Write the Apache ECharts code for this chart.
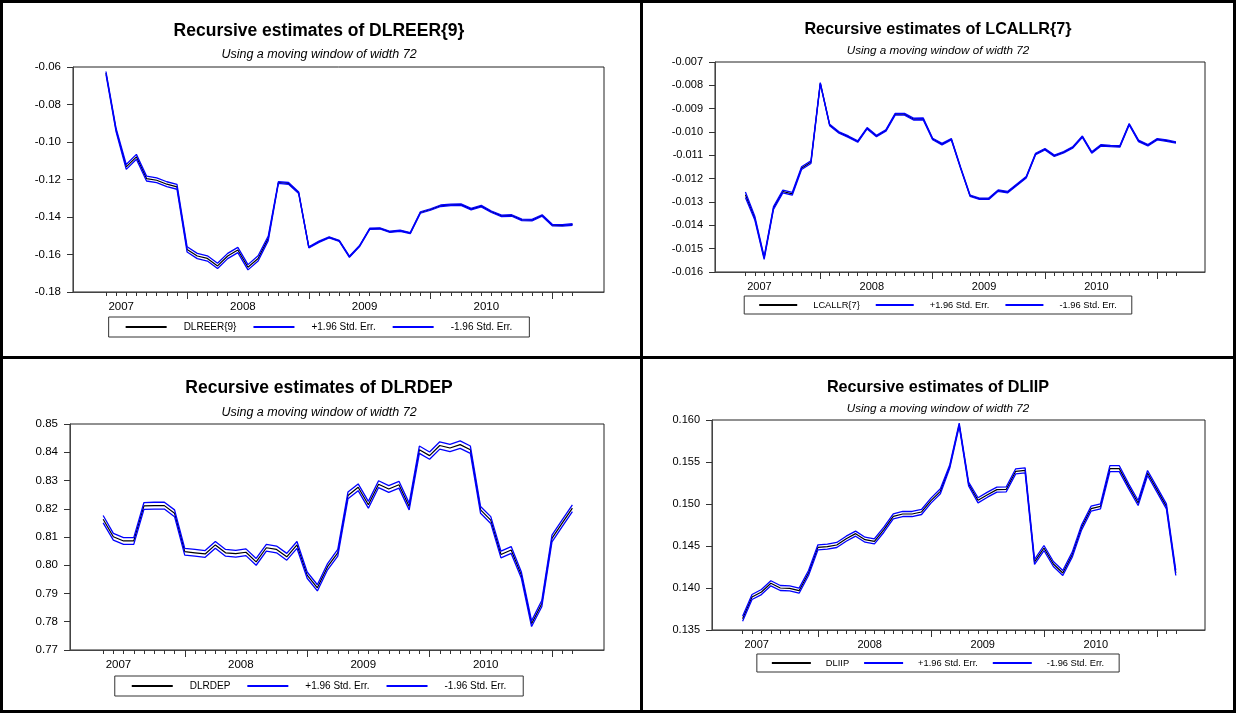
<!DOCTYPE html>
<html>
<head>
<meta charset="utf-8">
<title>Recursive estimates</title>
<script src="https://cdn.jsdelivr.net/npm/echarts@6/dist/echarts.min.js"></script>
<style>
  html, body { margin: 0; padding: 0; background: #fff; }
  #page { position: relative; width: 1236px; height: 713px; overflow: hidden; background: #fff; }
  .panel { position: absolute; }
  .rule { position: absolute; background: #000; z-index: 5; }
</style>
</head>
<body>
<div id="page">
  <div class="panel" id="p1" style="left:0;top:0;width:638px;height:356px"></div>
  <div class="panel" id="p2" style="left:640px;top:0;width:596px;height:356px"></div>
  <div class="panel" id="p3" style="left:0;top:357px;width:638px;height:356px"></div>
  <div class="panel" id="p4" style="left:640px;top:357px;width:596px;height:356px"></div>
  <div class="rule" style="left:0;top:0;width:1236px;height:3px"></div>
  <div class="rule" style="left:0;top:710px;width:1236px;height:3px"></div>
  <div class="rule" style="left:0;top:0;width:3px;height:713px"></div>
  <div class="rule" style="left:1233px;top:0;width:3px;height:713px"></div>
  <div class="rule" style="left:640px;top:0;width:3px;height:713px"></div>
  <div class="rule" style="left:0;top:356px;width:1236px;height:3px"></div>
</div>
<script>
// Monthly observations of the 72-month moving window (end month of each window)
const months = [
  '2007-05','2007-06','2007-07','2007-08','2007-09','2007-10','2007-11','2007-12',
  '2008-01','2008-02','2008-03','2008-04','2008-05','2008-06','2008-07','2008-08','2008-09','2008-10','2008-11','2008-12',
  '2009-01','2009-02','2009-03','2009-04','2009-05','2009-06','2009-07','2009-08','2009-09','2009-10','2009-11','2009-12',
  '2010-01','2010-02','2010-03','2010-04','2010-05','2010-06','2010-07','2010-08','2010-09','2010-10','2010-11','2010-12',
  '2011-01','2011-02','2011-03'
];
const yearLabels = ['2007', '2008', '2009', '2010'];

// DLREER{9}
const dlreerEst = [-0.0632,-0.0937,-0.1133,-0.1079,-0.1195,-0.1204,-0.1225,-0.1239,
  -0.1573,-0.1608,-0.1621,-0.1661,-0.1608,-0.1576,-0.1668,-0.1621,-0.1514,-0.1216,-0.1221,-0.1271,
  -0.1562,-0.1532,-0.1509,-0.1527,-0.1612,-0.1555,-0.1463,-0.1461,-0.1479,-0.1473,-0.1486,-0.1376,
  -0.1360,-0.1340,-0.1335,-0.1334,-0.1358,-0.1342,-0.1372,-0.1394,-0.1392,-0.1415,-0.1417,-0.1392,
  -0.1443,-0.1445,-0.1440];
const dlreerUp = [-0.0624,-0.0928,-0.1120,-0.1066,-0.1182,-0.1191,-0.1212,-0.1226,
  -0.1559,-0.1594,-0.1607,-0.1647,-0.1594,-0.1562,-0.1654,-0.1607,-0.1502,-0.1211,-0.1216,-0.1267,
  -0.1559,-0.1529,-0.1506,-0.1524,-0.1609,-0.1552,-0.1460,-0.1458,-0.1476,-0.1470,-0.1483,-0.1372,
  -0.1356,-0.1336,-0.1331,-0.1330,-0.1354,-0.1338,-0.1368,-0.1390,-0.1388,-0.1411,-0.1413,-0.1388,
  -0.1439,-0.1441,-0.1436];
const dlreerLo = [-0.0640,-0.0946,-0.1146,-0.1092,-0.1208,-0.1217,-0.1238,-0.1252,
  -0.1587,-0.1622,-0.1635,-0.1675,-0.1622,-0.1590,-0.1682,-0.1635,-0.1526,-0.1221,-0.1226,-0.1275,
  -0.1565,-0.1535,-0.1512,-0.1530,-0.1615,-0.1558,-0.1466,-0.1464,-0.1482,-0.1476,-0.1489,-0.1380,
  -0.1364,-0.1344,-0.1339,-0.1338,-0.1362,-0.1346,-0.1376,-0.1398,-0.1396,-0.1419,-0.1421,-0.1396,
  -0.1447,-0.1449,-0.1444];

// LCALLR{7}
const lcallrEst = [-0.01269,-0.01369,-0.01540,-0.01326,-0.01255,-0.01265,-0.01155,-0.01129,
  -0.00791,-0.00970,-0.01002,-0.01020,-0.01041,-0.00984,-0.01017,-0.00994,-0.00924,-0.00924,-0.00945,-0.00944,
  -0.01030,-0.01052,-0.01031,-0.01155,-0.01273,-0.01286,-0.01286,-0.01251,-0.01258,-0.01226,-0.01194,-0.01094,
  -0.01074,-0.01102,-0.01087,-0.01065,-0.01020,-0.01088,-0.01057,-0.01060,-0.01062,-0.00967,-0.01038,-0.01057,
  -0.01031,-0.01037,-0.01045];
const lcallrUp = [-0.01257,-0.01361,-0.01534,-0.01320,-0.01249,-0.01259,-0.01149,-0.01123,
  -0.00788,-0.00967,-0.00999,-0.01017,-0.01038,-0.00981,-0.01014,-0.00991,-0.00920,-0.00920,-0.00941,-0.00940,
  -0.01027,-0.01049,-0.01028,-0.01152,-0.01270,-0.01283,-0.01283,-0.01248,-0.01255,-0.01223,-0.01191,-0.01091,
  -0.01071,-0.01099,-0.01084,-0.01062,-0.01017,-0.01085,-0.01054,-0.01057,-0.01059,-0.00964,-0.01035,-0.01054,
  -0.01028,-0.01034,-0.01042];
const lcallrLo = [-0.01281,-0.01377,-0.01546,-0.01332,-0.01261,-0.01271,-0.01161,-0.01135,
  -0.00794,-0.00973,-0.01005,-0.01023,-0.01044,-0.00987,-0.01020,-0.00997,-0.00928,-0.00928,-0.00949,-0.00948,
  -0.01033,-0.01055,-0.01034,-0.01158,-0.01276,-0.01289,-0.01289,-0.01254,-0.01261,-0.01229,-0.01197,-0.01097,
  -0.01077,-0.01105,-0.01090,-0.01068,-0.01023,-0.01091,-0.01060,-0.01063,-0.01065,-0.00970,-0.01041,-0.01060,
  -0.01034,-0.01040,-0.01048];

// DLRDEP
const dlrdepEst = [0.8163,0.8101,0.8086,0.8086,0.8210,0.8211,0.8211,0.8184,
  0.8048,0.8044,0.8040,0.8072,0.8044,0.8041,0.8046,0.8012,0.8062,0.8056,0.8030,0.8072,
  0.7965,0.7920,0.7995,0.8044,0.8247,0.8276,0.8214,0.8287,0.8270,0.8285,0.8208,0.8409,
  0.8388,0.8424,0.8415,0.8427,0.8409,0.8196,0.8160,0.8038,0.8054,0.7965,0.7793,0.7864,
  0.8095,0.8149,0.8202];
const dlrdepUp = [0.8176,0.8113,0.8098,0.8098,0.8222,0.8223,0.8223,0.8196,
  0.8060,0.8056,0.8052,0.8084,0.8056,0.8053,0.8058,0.8024,0.8074,0.8068,0.8042,0.8084,
  0.7976,0.7931,0.8006,0.8056,0.8259,0.8288,0.8226,0.8299,0.8282,0.8297,0.8220,0.8422,
  0.8401,0.8437,0.8428,0.8440,0.8422,0.8208,0.8172,0.8050,0.8066,0.7976,0.7803,0.7875,
  0.8107,0.8161,0.8214];
const dlrdepLo = [0.8150,0.8089,0.8074,0.8074,0.8198,0.8199,0.8199,0.8172,
  0.8036,0.8032,0.8028,0.8060,0.8032,0.8029,0.8034,0.8000,0.8050,0.8044,0.8018,0.8060,
  0.7954,0.7909,0.7984,0.8032,0.8235,0.8264,0.8202,0.8275,0.8258,0.8273,0.8196,0.8396,
  0.8375,0.8411,0.8402,0.8414,0.8396,0.8184,0.8148,0.8026,0.8042,0.7954,0.7783,0.7853,
  0.8083,0.8137,0.8190];

// DLIIP
const dliipEst = [0.13635,0.13893,0.13952,0.14056,0.14000,0.13996,0.13968,0.14179,
  0.14484,0.14492,0.14512,0.14587,0.14647,0.14575,0.14556,0.14694,0.14853,0.14881,0.14881,0.14905,
  0.15040,0.15151,0.15448,0.15944,0.15238,0.15044,0.15111,0.15171,0.15175,0.15389,0.15401,0.14310,
  0.14476,0.14286,0.14179,0.14397,0.14722,0.14944,0.14972,0.15421,0.15421,0.15210,0.15012,0.15369,
  0.15171,0.14972,0.14179];
const dliipUp = [0.13665,0.13923,0.13982,0.14086,0.14030,0.14026,0.13998,0.14209,
  0.14514,0.14522,0.14542,0.14617,0.14677,0.14605,0.14586,0.14724,0.14883,0.14911,0.14911,0.14935,
  0.15070,0.15181,0.15468,0.15964,0.15260,0.15074,0.15141,0.15201,0.15205,0.15419,0.15431,0.14340,
  0.14506,0.14316,0.14209,0.14427,0.14752,0.14974,0.15002,0.15456,0.15456,0.15240,0.15042,0.15399,
  0.15201,0.15002,0.14209];
const dliipLo = [0.13605,0.13863,0.13922,0.14026,0.13970,0.13966,0.13938,0.14149,
  0.14454,0.14462,0.14482,0.14557,0.14617,0.14545,0.14526,0.14664,0.14823,0.14851,0.14851,0.14875,
  0.15010,0.15121,0.15428,0.15924,0.15216,0.15014,0.15081,0.15141,0.15145,0.15359,0.15371,0.14280,
  0.14446,0.14256,0.14149,0.14367,0.14692,0.14914,0.14942,0.15386,0.15386,0.15180,0.14982,0.15339,
  0.15141,0.14942,0.14149];

const FONT = '"Liberation Sans", Arial, sans-serif';
const SUBTITLE = 'Using a moving window of width 72';
const UPPER = '+1.96 Std. Err.';
const LOWER = '-1.96 Std. Err.';

// month positions on the x axis, January ticks and centred year labels
const monthPos = months.map((m, i) => i);
const janPos = months.map((m, i) => (m.endsWith('-01') ? i : -1)).filter(i => i >= 0);
const yearPos = yearLabels.map(y => {
  const j = months.indexOf(y + '-01');
  const start = j >= 0 ? j : months.indexOf((+y + 1) + '-01') - 12;
  return start + 5.5;
});
function yearText(v) {
  const k = yearPos.findIndex(p => Math.abs(p - v) < 1e-6);
  return k >= 0 ? yearLabels[k] : '';
}

function buildPanel(id, name, est, up, lo, axis, layout) {
  const chart = echarts.init(document.getElementById(id), null, { renderer: 'canvas' });
  const pairs = arr => arr.map((v, i) => [monthPos[i], v]);
  const f = layout.fonts;
  const xRange = { min: -3.25, max: 49.1 };
  chart.setOption({
    animation: false,
    backgroundColor: '#fff',
    textStyle: { fontFamily: FONT },
    title: [
      { text: name === null ? '' : 'Recursive estimates of ' + name, left: 'center',
        top: layout.titleY - (f.title + 2) / 2, padding: 0,
        textStyle: { fontSize: f.title, fontWeight: 'bold', color: '#000', lineHeight: f.title + 2, fontFamily: FONT } },
      { text: SUBTITLE, left: 'center', top: layout.subY - (f.sub + 2) / 2, padding: 0,
        textStyle: { fontSize: f.sub, fontStyle: 'italic', fontWeight: 'normal', color: '#000', lineHeight: f.sub + 2, fontFamily: FONT } }
    ],
    legend: {
      data: [name, UPPER, LOWER],
      left: 'center', top: layout.legendTop,
      icon: 'rect', itemWidth: layout.legend.icon, itemHeight: 2, itemGap: layout.legend.gap,
      padding: [layout.legend.padV, layout.legend.padH],
      borderColor: '#333', borderWidth: 1, backgroundColor: '#fff',
      selectedMode: false,
      itemStyle: { borderWidth: 0 },
      textStyle: { fontSize: f.legend, color: '#000', fontFamily: FONT, padding: [0, 0, 0, layout.legend.textGap] }
    },
    grid: {
      left: layout.grid[0], top: layout.grid[1], width: layout.grid[2], height: layout.grid[3],
      show: true, borderColor: '#222', borderWidth: 1, backgroundColor: '#fff', containLabel: false
    },
    xAxis: [
      { type: 'value', min: xRange.min, max: xRange.max, position: 'bottom',
        axisLine: { show: true, onZero: false, lineStyle: { color: '#444', width: 1 } },
        axisTick: { show: true, customValues: monthPos, length: 4, lineStyle: { color: '#333' } },
        axisLabel: { show: true, customValues: yearPos, formatter: yearText, margin: 9,
          fontSize: f.tick, color: '#000', fontFamily: FONT },
        splitLine: { show: false } },
      { type: 'value', min: xRange.min, max: xRange.max, position: 'bottom',
        axisLine: { show: false, onZero: false },
        axisTick: { show: true, customValues: janPos, length: 7, lineStyle: { color: '#333' } },
        axisLabel: { show: false },
        splitLine: { show: false } }
    ],
    yAxis: {
      type: 'value', min: axis.min, max: axis.max, interval: axis.step,
      axisLine: { show: true, onZero: false, lineStyle: { color: '#444', width: 1 } },
      axisTick: { show: true, length: 6, lineStyle: { color: '#333' } },
      axisLabel: { formatter: v => v.toFixed(axis.dec), margin: 12, fontSize: f.tick, color: '#000', fontFamily: FONT },
      splitLine: { show: false }
    },
    series: [
      { name: name, type: 'line', xAxisIndex: 0, data: pairs(est), symbol: 'none', silent: true, z: 2,
        lineStyle: { color: '#000', width: 1.2 }, itemStyle: { color: '#000' } },
      { name: UPPER, type: 'line', xAxisIndex: 0, data: pairs(up), symbol: 'none', silent: true, z: 3,
        lineStyle: { color: '#0000ff', width: 1.3 }, itemStyle: { color: '#0000ff' } },
      { name: LOWER, type: 'line', xAxisIndex: 0, data: pairs(lo), symbol: 'none', silent: true, z: 3,
        lineStyle: { color: '#0000ff', width: 1.3 }, itemStyle: { color: '#0000ff' } }
    ]
  });
}

const leftFonts = { title: 17.5, sub: 12.5, tick: 11.5, legend: 10 };
const rightFonts = { title: 16.2, sub: 11.7, tick: 11, legend: 9.3 };

buildPanel('p1', 'DLREER{9}', dlreerEst, dlreerUp, dlreerLo,
  { min: -0.18, max: -0.06, step: 0.02, dec: 2 },
  { grid: [73, 67, 531, 225], titleY: 30.7, subY: 54.3, legendTop: 317,
    fonts: leftFonts, legend: { icon: 41, gap: 17, padV: 5, padH: 17, textGap: 12 } });

buildPanel('p2', 'LCALLR{7}', lcallrEst, lcallrUp, lcallrLo,
  { min: -0.016, max: -0.007, step: 0.001, dec: 3 },
  { grid: [75, 62, 490, 210], titleY: 29.3, subY: 51, legendTop: 296,
    fonts: rightFonts, legend: { icon: 38, gap: 16, padV: 4.5, padH: 15, textGap: 11 } });

buildPanel('p3', 'DLRDEP', dlrdepEst, dlrdepUp, dlrdepLo,
  { min: 0.77, max: 0.85, step: 0.01, dec: 2 },
  { grid: [70, 67, 534, 226], titleY: 31.3, subY: 55.3, legendTop: 319,
    fonts: leftFonts, legend: { icon: 41, gap: 17, padV: 5, padH: 17, textGap: 12 } });

buildPanel('p4', 'DLIIP', dliipEst, dliipUp, dliipLo,
  { min: 0.135, max: 0.16, step: 0.005, dec: 3 },
  { grid: [72, 63, 493, 210], titleY: 30.3, subY: 51.3, legendTop: 297,
    fonts: rightFonts, legend: { icon: 39, gap: 15, padV: 4.5, padH: 15, textGap: 10 } });
</script>
</body>
</html>
